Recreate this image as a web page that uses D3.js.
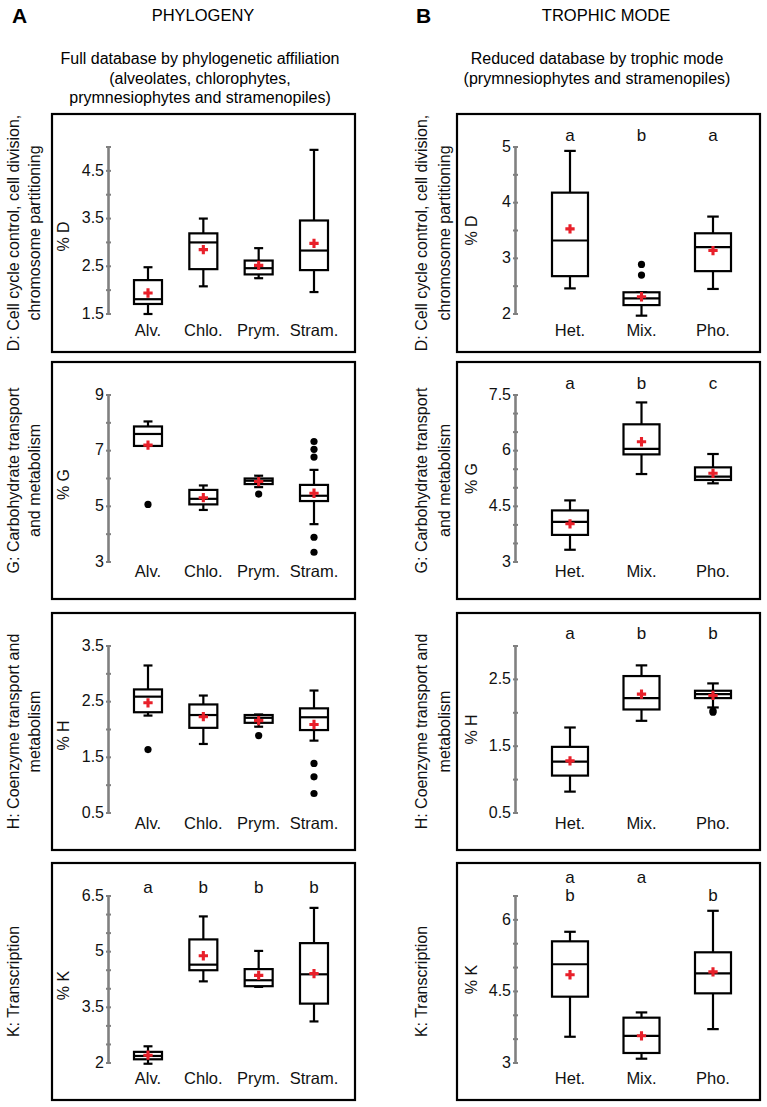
<!DOCTYPE html>
<html><head><meta charset="utf-8">
<script src="https://cdn.jsdelivr.net/npm/d3@7"></script>
<style>
body{margin:0;background:#fff;}
svg{display:block;font-family:"Liberation Sans",Arial,sans-serif;}
</style></head>
<body><svg id="c" width="767" height="1107"></svg>
<script>
// ---------- DATA ----------
const phyloCats = ["Alv.", "Chlo.", "Prym.", "Stram."];
const trophCats = ["Het.", "Mix.", "Pho."];

// box stats: [whiskerLow, Q1, median, Q3, whiskerHigh]
const phyloD_box = [[1.5,1.71,1.81,2.21,2.48],[2.08,2.44,3.0,3.19,3.5],[2.25,2.33,2.46,2.62,2.88],[1.96,2.42,2.83,3.46,4.94]];
const phyloD_mean = [1.94, 2.85, 2.52, 2.98];
const phyloD_out = [[],[],[],[]];
const phyloD_ticks = [1.5, 2.5, 3.5, 4.5];
const phyloD_minor = [2, 3, 4, 5];
const phyloD_domain = [1.5, 5];

const phyloG_box = [[7.17,7.17,7.6,7.87,8.05],[4.87,5.07,5.27,5.59,5.75],[5.69,5.8,5.92,6.0,6.1],[4.36,5.19,5.38,5.77,6.31]];
const phyloG_mean = [7.2, 5.31, 5.89, 5.47];
const phyloG_out = [[5.07],[],[5.44],[7.33,7.05,6.77,3.89,3.35]];
const phyloG_ticks = [3, 5, 7, 9];
const phyloG_minor = [4, 6, 8];
const phyloG_domain = [3, 9];

const phyloH_box = [[2.25,2.31,2.59,2.72,3.15],[1.74,2.03,2.26,2.45,2.61],[2.05,2.12,2.21,2.26,2.27],[1.8,1.99,2.22,2.38,2.7]];
const phyloH_mean = [2.48, 2.23, 2.16, 2.09];
const phyloH_out = [[1.64],[],[1.89],[1.39,1.15,0.85]];
const phyloH_ticks = [0.5, 1.5, 2.5, 3.5];
const phyloH_minor = [1, 2, 3];
const phyloH_domain = [0.5, 3.5];

const phyloK_box = [[1.98,2.1,2.19,2.3,2.45],[4.2,4.5,4.65,5.33,5.95],[4.05,4.07,4.23,4.53,5.02],[3.12,3.6,4.39,5.23,6.18]];
const phyloK_mean = [2.21, 4.89, 4.36, 4.41];
const phyloK_out = [[],[],[],[]];
const phyloK_ticks = [2, 3.5, 5, 6.5];
const phyloK_minor = [2.5, 3, 4, 4.5, 5.5, 6];
const phyloK_domain = [2, 6.5];
const phyloK_letters = [["a","b","b","b"]];

const trophD_box = [[2.46,2.68,3.32,4.18,4.93],[1.97,2.16,2.28,2.39,2.39],[2.45,2.77,3.2,3.45,3.75]];
const trophD_mean = [3.53, 2.31, 3.14];
const trophD_out = [[],[2.89,2.7],[]];
const trophD_ticks = [2, 3, 4, 5];
const trophD_minor = [2.5, 3.5, 4.5];
const trophD_domain = [2, 5];
const trophD_letters = [["a","b","a"]];

const trophG_box = [[3.33,3.73,4.08,4.39,4.66],[5.37,5.9,6.05,6.71,7.3],[5.12,5.21,5.3,5.55,5.91]];
const trophG_mean = [4.03, 6.24, 5.39];
const trophG_out = [[],[],[]];
const trophG_ticks = [3, 4.5, 6, 7.5];
const trophG_minor = [3.5, 4, 5, 5.5, 6.5, 7];
const trophG_domain = [3, 7.5];
const trophG_letters = [["a","b","c"]];

const trophH_box = [[0.82,1.06,1.27,1.49,1.78],[1.88,2.05,2.22,2.55,2.71],[2.08,2.22,2.28,2.33,2.44]];
const trophH_mean = [1.28, 2.28, 2.26];
const trophH_out = [[],[],[2.03,2.01]];
const trophH_ticks = [0.5, 1.5, 2.5];
const trophH_minor = [1, 2, 3];
const trophH_domain = [0.5, 3];
const trophH_letters = [["a","b","b"]];

const trophK_box = [[3.55,4.39,5.07,5.55,5.75],[3.09,3.21,3.57,3.95,4.06],[3.71,4.46,4.88,5.32,6.19]];
const trophK_mean = [4.85, 3.57, 4.91];
const trophK_out = [[],[],[]];
const trophK_ticks = [3, 4.5, 6];
const trophK_minor = [3.5, 4, 5, 5.5, 6.5];
const trophK_domain = [3, 6.5];
const trophK_letters = [["a","a",""],["b","","b"]];

const rowTitles = [
  ["D: Cell cycle control, cell division,", "chromosome partitioning"],
  ["G: Carbohydrate transport", "and metabolism"],
  ["H: Coenzyme transport and", "metabolism"],
  ["K: Transcription"]
];
const yLabels = ["% D", "% G", "% H", "% K"];

// ---------- LAYOUT ----------
const svg = d3.select("#c");
const rowFrames = [[114,352],[362,599],[613,850],[863,1100]];
const catLabelOff = [216, 209, 210, 215];
const cols = [
  {fx0:52, fx1:355, axisX:108.5, xr:[148,314], cats:phyloCats, boxW:28, titleX:[13,34], ylabX:63, ylabDy:6,
   panels:[
    {box:phyloD_box, mean:phyloD_mean, out:phyloD_out, ticks:phyloD_ticks, minor:phyloD_minor, dom:phyloD_domain, letters:[]},
    {box:phyloG_box, mean:phyloG_mean, out:phyloG_out, ticks:phyloG_ticks, minor:phyloG_minor, dom:phyloG_domain, letters:[]},
    {box:phyloH_box, mean:phyloH_mean, out:phyloH_out, ticks:phyloH_ticks, minor:phyloH_minor, dom:phyloH_domain, letters:[]},
    {box:phyloK_box, mean:phyloK_mean, out:phyloK_out, ticks:phyloK_ticks, minor:phyloK_minor, dom:phyloK_domain, letters:phyloK_letters, letterY:[24]}
   ]},
  {fx0:457, fx1:760, axisX:515.5, xr:[570,713], cats:trophCats, boxW:36, titleX:[421,444], ylabX:471, ylabDy:0,
   panels:[
    {box:trophD_box, mean:trophD_mean, out:trophD_out, ticks:trophD_ticks, minor:trophD_minor, dom:trophD_domain, letters:trophD_letters, letterY:[21]},
    {box:trophG_box, mean:trophG_mean, out:trophG_out, ticks:trophG_ticks, minor:trophG_minor, dom:trophG_domain, letters:trophG_letters, letterY:[21]},
    {box:trophH_box, mean:trophH_mean, out:trophH_out, ticks:trophH_ticks, minor:trophH_minor, dom:trophH_domain, letters:trophH_letters, letterY:[20]},
    {box:trophK_box, mean:trophK_mean, out:trophK_out, ticks:trophK_ticks, minor:trophK_minor, dom:trophK_domain, letters:trophK_letters, letterY:[14,32]}
   ]}
];

// headers
svg.append("text").attr("x",12).attr("y",23).attr("font-size",21).attr("font-weight","bold").text("A");
svg.append("text").attr("x",416).attr("y",23).attr("font-size",21).attr("font-weight","bold").text("B");
svg.append("text").attr("x",203).attr("y",21).attr("text-anchor","middle").attr("font-size",16.5).text("PHYLOGENY");
svg.append("text").attr("x",606).attr("y",21).attr("text-anchor","middle").attr("font-size",16.5).text("TROPHIC MODE");
const subA = ["Full database by phylogenetic affiliation","(alveolates, chlorophytes,","prymnesiophytes and stramenopiles)"];
const subB = ["Reduced database by trophic mode","(prymnesiophytes and stramenopiles)"];
subA.forEach((t,i)=>svg.append("text").attr("x",200).attr("y",64+i*19.5).attr("text-anchor","middle").attr("font-size",16).text(t));
subB.forEach((t,i)=>svg.append("text").attr("x",597).attr("y",64+i*19.5).attr("text-anchor","middle").attr("font-size",16).text(t));

const red = "#e8202a";
const cross = d3.symbol().type(d3.symbolCross).size(48);

cols.forEach(col => {
  const x = d3.scalePoint().domain(col.cats).range(col.xr);
  col.panels.forEach((p, r) => {
    const [t0, t1] = rowFrames[r];
    const g = svg.append("g");
    // frame
    g.append("rect").attr("x",col.fx0).attr("y",t0).attr("width",col.fx1-col.fx0).attr("height",t1-t0)
      .attr("fill","none").attr("stroke","#000").attr("stroke-width",2.2);
    // row title (rotated)
    const midY = (t0+t1)/2;
    rowTitles[r].forEach((t,i)=>{
      g.append("text").attr("transform",`translate(${col.titleX[i]},${midY}) rotate(-90)`)
        .attr("text-anchor","middle").attr("dominant-baseline","central").attr("font-size",16).attr("fill","#111").text(t);
    });
    // y scale
    const y = d3.scaleLinear().domain(p.dom).range([t0+200, t0+33]);
    // axis line
    const ag = g.append("g");
    ag.append("line").attr("x1",col.axisX).attr("x2",col.axisX).attr("y1",y(p.dom[0])).attr("y2",y(p.dom[1]))
      .attr("stroke","#808080").attr("stroke-width",2.6);
    ag.selectAll(".mt").data(p.ticks.concat(p.minor)).join("line")
      .attr("x1",col.axisX-2.5).attr("x2",col.axisX+2.5).attr("y1",d=>y(d)).attr("y2",d=>y(d))
      .attr("stroke","#808080").attr("stroke-width",2);
    ag.selectAll(".tl").data(p.ticks).join("text")
      .attr("x",col.axisX-4.5).attr("y",d=>y(d)).attr("dy","-0.05em")
      .attr("text-anchor","end").attr("dominant-baseline","central").attr("font-size",16).attr("fill","#111")
      .text(d=>d3.format("")(d));
    // y label
    const ym = (y(p.dom[0])+y(p.dom[1]))/2 + col.ylabDy;
    g.append("text").attr("transform",`translate(${col.ylabX},${ym}) rotate(-90)`)
      .attr("text-anchor","middle").attr("dominant-baseline","central").attr("font-size",16).attr("fill","#111").text(yLabels[r]);
    // category labels
    g.selectAll(".cl").data(col.cats).join("text")
      .attr("x",d=>x(d)).attr("y",t0+catLabelOff[r]).attr("text-anchor","middle").attr("dominant-baseline","central")
      .attr("font-size",16.5).attr("fill","#111").text(d=>d);
    // letters
    p.letters.forEach((row, ri)=>{
      g.selectAll(".lt"+ri).data(row.map((l,i)=>({l, c:col.cats[i]}))).join("text")
        .attr("x",d=>x(d.c)).attr("y",t0+p.letterY[ri]).attr("text-anchor","middle").attr("dominant-baseline","central")
        .attr("font-size",17).attr("fill","#111").text(d=>d.l);
    });
    // boxes
    const bw = col.boxW, cap = bw*0.32;
    p.box.forEach((b, i)=>{
      const cx = x(col.cats[i]);
      const bg = g.append("g").attr("stroke","#000").attr("stroke-width",2.2).attr("fill","none");
      bg.append("line").attr("x1",cx).attr("x2",cx).attr("y1",y(b[3])).attr("y2",y(b[4]));
      bg.append("line").attr("x1",cx).attr("x2",cx).attr("y1",y(b[1])).attr("y2",y(b[0]));
      bg.append("line").attr("x1",cx-cap/2).attr("x2",cx+cap/2).attr("y1",y(b[4])).attr("y2",y(b[4]));
      bg.append("line").attr("x1",cx-cap/2).attr("x2",cx+cap/2).attr("y1",y(b[0])).attr("y2",y(b[0]));
      bg.append("rect").attr("x",cx-bw/2).attr("y",y(b[3])).attr("width",bw).attr("height",Math.max(0.5,y(b[1])-y(b[3]))).attr("fill","#fff");
      bg.append("line").attr("x1",cx-bw/2).attr("x2",cx+bw/2).attr("y1",y(b[2])).attr("y2",y(b[2]));
      // outliers
      g.selectAll(".o"+i).data(p.out[i]).join("circle")
        .attr("cx",cx).attr("cy",d=>y(d)).attr("r",3.6).attr("fill","#000");
      // mean
      g.append("path").attr("d",cross).attr("transform",`translate(${cx},${y(p.mean[i])})`).attr("fill",red);
    });
  });
});
</script></body></html>
